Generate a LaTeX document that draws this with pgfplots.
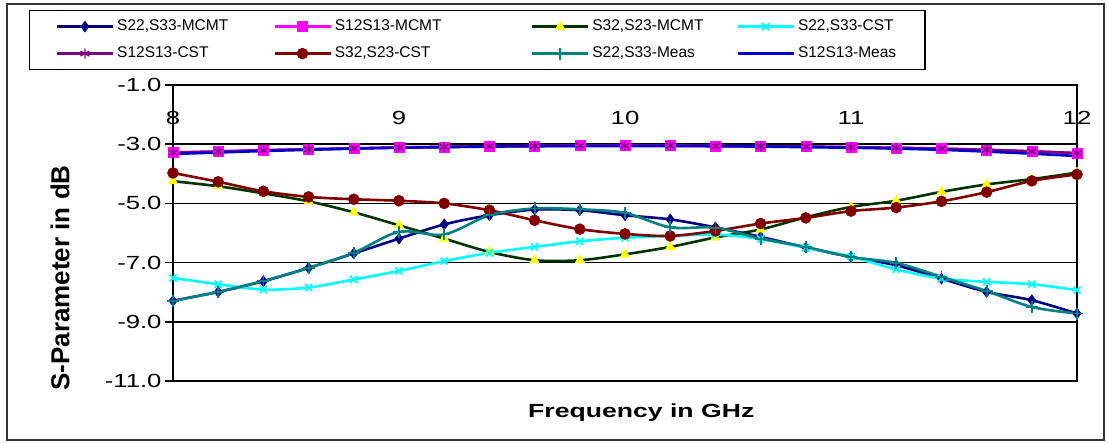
\documentclass[border=0pt]{standalone}
\usepackage{fontspec}
\setmainfont{Liberation Sans}
\newfontfamily\widefont[FakeStretch=1.35]{Liberation Sans}
\newfontfamily\labelfont[FakeStretch=1.4]{Liberation Sans}
\usepackage{pgfplots}
\usepackage{pgfplotstable}
\pgfplotsset{compat=1.18}

\definecolor{cnavy}{RGB}{0,0,128}
\definecolor{cmagenta}{RGB}{255,0,255}
\definecolor{cdkgreen}{RGB}{0,51,0}
\definecolor{cyellow}{RGB}{255,255,0}
\definecolor{ccyan}{RGB}{0,255,255}
\definecolor{cpurple}{RGB}{128,0,128}
\definecolor{cdkred}{RGB}{128,0,0}
\definecolor{cteal}{RGB}{0,128,128}
\definecolor{cblue}{RGB}{0,0,204}

% S-parameters in dB, 8-12 GHz
\pgfplotstableread{
f    s22mcmt s12mcmt s32mcmt s22cst s12cst s32cst s22meas s12meas
8.0  -8.29   -3.28   -4.25   -7.52  -3.29  -3.97  -8.29   -3.33
8.2  -7.99   -3.24   -4.42   -7.73  -3.25  -4.27  -7.99   -3.28
8.4  -7.63   -3.20   -4.66   -7.91  -3.21  -4.59  -7.62   -3.23
8.6  -7.18   -3.17   -4.93   -7.84  -3.17  -4.78  -7.18   -3.19
8.8  -6.69   -3.14   -5.30   -7.57  -3.14  -4.86  -6.67   -3.15
9.0  -6.19   -3.11   -5.74   -7.28  -3.11  -4.91  -5.96   -3.12
9.2  -5.71   -3.09   -6.19   -6.95  -3.09  -5.00  -6.05   -3.10
9.4  -5.40   -3.07   -6.64   -6.67  -3.07  -5.23  -5.40   -3.08
9.6  -5.21   -3.06   -6.92   -6.47  -3.06  -5.57  -5.17   -3.07
9.8  -5.23   -3.05   -6.92   -6.28  -3.05  -5.87  -5.20   -3.06
10.0 -5.40   -3.05   -6.72   -6.16  -3.05  -6.03  -5.32   -3.06
10.2 -5.54   -3.05   -6.47   -6.10  -3.05  -6.10  -5.81   -3.06
10.4 -5.81   -3.06   -6.15   -6.05  -3.06  -5.93  -5.82   -3.07
10.6 -6.13   -3.07   -5.88   -6.20  -3.07  -5.68  -6.19   -3.08
10.8 -6.49   -3.08   -5.47   -6.50  -3.08  -5.49  -6.47   -3.10
11.0 -6.81   -3.10   -5.12   -6.80  -3.10  -5.26  -6.81   -3.12
11.2 -7.09   -3.12   -4.91   -7.23  -3.12  -5.14  -7.01   -3.15
11.4 -7.54   -3.15   -4.61   -7.54  -3.15  -4.93  -7.48   -3.19
11.6 -7.99   -3.19   -4.36   -7.65  -3.19  -4.62  -7.96   -3.25
11.8 -8.27   -3.24   -4.18   -7.73  -3.24  -4.24  -8.50   -3.32
12.0 -8.72   -3.30   -3.96   -7.93  -3.30  -4.02  -8.72   -3.40
}\sdata

\begin{document}
\begin{tikzpicture}
\path[use as bounding box] (0pt,-442pt) rectangle (1108pt,0pt);
\draw[line width=1.5pt, black!80] (7pt,-4pt) rectangle (1104pt,-440pt);
\begin{axis}[
  at={(173pt,-381pt)}, anchor=south west,
  scale only axis, width=904pt, height=296pt,
  xmin=8, xmax=12, ymin=-11, ymax=-1,
  xtick={8,9,10,11,12}, ytick={-11,-9,-7,-5,-3,-1},
  xticklabel pos=upper,
  x tick style={draw=none},
  ytick pos=left, tick align=outside, major tick length=8pt,
  y tick style={line width=1.5pt, black},
  ymajorgrids, grid style={black, line width=1.5pt},
  axis line style={line width=2.5pt},
  tick label style={font=\widefont\fontsize{19}{22}\selectfont},
  xticklabel style={anchor=north, yshift=-31pt},
  yticklabel style={/pgf/number format/.cd, fixed, fixed zerofill, precision=1},
  /pgf/number format/assume math mode=true,
  xlabel={Frequency in GHz},
  xlabel style={font=\labelfont\bfseries\fontsize{19}{22}\selectfont,
    at={(axis description cs:0.518,-0.108)}, anchor=center},
  ylabel={S-Parameter in dB},
  ylabel style={font=\bfseries\fontsize{26}{30}\selectfont,
    at={(axis description cs:-0.125,0.348)}, anchor=center},
  clip=false,
  every axis plot/.append style={line width=2.6pt, smooth},
  legend columns=4,
  legend cell align=left,
  legend image code/.code={
    \draw[mark repeat=2, mark phase=2, #1]
      plot coordinates {(0pt,0pt) (28pt,0pt) (56pt,0pt)};},
  legend style={
    at={(axis description cs:-0.15929,1.25338)}, anchor=north west,
    draw=black, line width=1.2pt,
    inner xsep=26pt, inner ysep=8pt, row sep=11pt,
    font=\fontsize{15.5}{18}\selectfont,
    nodes={inner sep=1pt, text height=11pt, text depth=3pt},
    /tikz/every odd column/.append style={column sep=2pt},
    /tikz/every even column/.append style={column sep=0pt},
  },
]
\addplot[color=cnavy, mark=diamond*, mark size=5.5pt,
  mark options={fill=cnavy, draw=cnavy, line width=0.5pt}]
  table[x=f, y=s22mcmt] {\sdata};
\addlegendentry{\makebox[155pt][l]{S22,S33-MCMT}}
\addplot[color=cmagenta, mark=square*, mark size=5pt,
  mark options={fill=cmagenta, draw=cmagenta, line width=0.5pt}]
  table[x=f, y=s12mcmt] {\sdata};
\addlegendentry{\makebox[195pt][l]{S12S13-MCMT}}
\addplot[color=cdkgreen, mark=triangle*, mark size=5.5pt,
  mark options={fill=cyellow, draw=cyellow, line width=0.5pt}]
  table[x=f, y=s32mcmt] {\sdata};
\addlegendentry{\makebox[143pt][l]{S32,S23-MCMT}}
\addplot[color=ccyan, mark=x, mark size=5pt,
  mark options={draw=ccyan, line width=1.8pt}]
  table[x=f, y=s22cst] {\sdata};
\addlegendentry{\makebox[100pt][l]{S22,S33-CST}}
\addplot[color=cpurple, mark=asterisk, mark size=5pt,
  mark options={draw=cpurple, line width=1.3pt}]
  table[x=f, y=s12cst] {\sdata};
\addlegendentry{\makebox[155pt][l]{S12S13-CST}}
\addplot[color=cdkred, mark=*, mark size=5.5pt,
  mark options={fill=cdkred, draw=cdkred, line width=0.5pt}]
  table[x=f, y=s32cst] {\sdata};
\addlegendentry{\makebox[195pt][l]{S32,S23-CST}}
\addplot[color=cteal, mark=+, mark size=6pt,
  mark options={draw=cteal, line width=1.8pt}]
  table[x=f, y=s22meas] {\sdata};
\addlegendentry{\makebox[143pt][l]{S22,S33-Meas}}
\addplot[color=cblue, no marks]
  table[x=f, y=s12meas] {\sdata};
\addlegendentry{\makebox[100pt][l]{S12S13-Meas}}
\end{axis}
\end{tikzpicture}
\end{document}
